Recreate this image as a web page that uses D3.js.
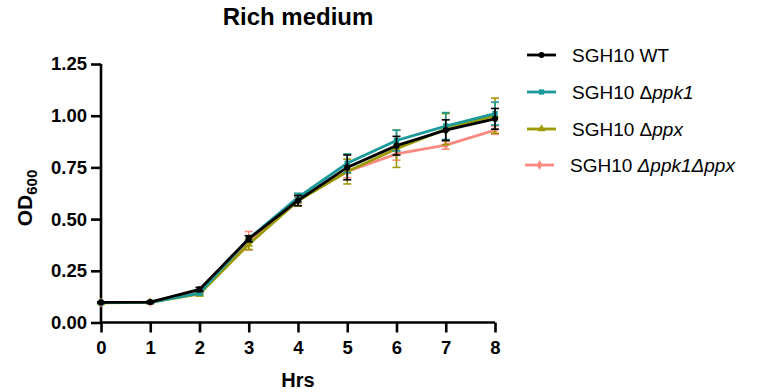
<!DOCTYPE html>
<html>
<head>
<meta charset="utf-8">
<script src="https://cdn.jsdelivr.net/npm/d3@7"></script>
<style>
  body { margin: 0; background: #fff; }
  text { font-family: "Liberation Sans", Arial, sans-serif; }
</style>
</head>
<body>
<div id="chart"></div>
<script>
// data
var hours = [0, 1, 2, 3, 4, 5, 6, 7, 8];
var seriesNames = ["SGH10 WT", "SGH10 \u0394ppk1", "SGH10 \u0394ppx", "SGH10 \u0394ppk1\u0394ppx"];
var wtMean   = [0.097, 0.099, 0.160, 0.405, 0.590, 0.750, 0.855, 0.930, 0.985];
var wtErr    = [0.003, 0.003, 0.010, 0.015, 0.025, 0.060, 0.045, 0.050, 0.050];
var ppk1Mean = [0.096, 0.098, 0.142, 0.405, 0.605, 0.770, 0.880, 0.950, 1.010];
var ppk1Err  = [0.003, 0.003, 0.006, 0.012, 0.020, 0.045, 0.050, 0.065, 0.055];
var ppxMean  = [0.095, 0.097, 0.138, 0.378, 0.588, 0.730, 0.840, 0.935, 1.000];
var ppxErr   = [0.003, 0.003, 0.010, 0.025, 0.025, 0.060, 0.090, 0.075, 0.085];
var dkoMean  = [0.096, 0.098, 0.148, 0.395, 0.592, 0.730, 0.815, 0.858, 0.930];
var dkoErr   = [0.003, 0.003, 0.008, 0.045, 0.015, 0.030, 0.030, 0.020, 0.020];
var yTicks = [0, 0.25, 0.5, 0.75, 1.0, 1.25];

var colors = ["#000000", "#1a9a9a", "#9c9a00", "#fa8a80"];
var shapes = [d3.symbolCircle, d3.symbolSquare, d3.symbolTriangle, d3.symbolDiamond];

var series = [
  {name: seriesNames[0], mean: wtMean, err: wtErr, color: colors[0], shape: shapes[0]},
  {name: seriesNames[1], mean: ppk1Mean, err: ppk1Err, color: colors[1], shape: shapes[1]},
  {name: seriesNames[2], mean: ppxMean, err: ppxErr, color: colors[2], shape: shapes[2]},
  {name: seriesNames[3], mean: dkoMean, err: dkoErr, color: colors[3], shape: shapes[3]}
];

var svgWidth = 757, svgHeight = 392;
var margin = {top: 64, right: 262, bottom: 69.5, left: 101};
var width = svgWidth - margin.left - margin.right;
var height = svgHeight - margin.top - margin.bottom;

var svg = d3.select("#chart").append("svg")
  .attr("width", svgWidth)
  .attr("height", svgHeight);

var chartGroup = svg.append("g")
  .attr("transform", `translate(${margin.left}, ${margin.top})`);

var x = d3.scaleLinear().domain([0, 8]).range([0, width]);
var y = d3.scaleLinear().domain([0, 1.25]).range([height, 0]);

// axes
var xAxis = chartGroup.append("g")
  .attr("transform", `translate(0, ${height})`)
  .call(d3.axisBottom(x).tickValues(hours).tickSize(10).tickPadding(8).tickFormat(d3.format("d")));
var yAxis = chartGroup.append("g")
  .call(d3.axisLeft(y).tickValues(yTicks).tickSize(10).tickPadding(4).tickFormat(d3.format(".2f")));

[xAxis, yAxis].forEach(function(ax) {
  ax.select(".domain").attr("stroke", "#000").attr("stroke-width", 2.6);
  ax.selectAll(".tick line").attr("stroke", "#000").attr("stroke-width", 2.6);
  ax.selectAll(".tick text")
    .attr("fill", "#000")
    .style("font-size", "18.5px")
    .style("font-weight", "bold");
});
xAxis.select(".domain").attr("d", `M0,0H${width}`);
yAxis.select(".domain").attr("d", `M0,0V${height}`);

// series, drawn back to front
var drawOrder = [3, 2, 1, 0];
var line = d3.line().x((d, i) => x(hours[i])).y(d => y(d));

drawOrder.forEach(function(k) {
  var s = series[k];
  var g = chartGroup.append("g");

  // error bars
  var bars = g.selectAll(".err").data(s.mean).enter().append("g");
  bars.append("line")
    .attr("x1", (d, i) => x(hours[i])).attr("x2", (d, i) => x(hours[i]))
    .attr("y1", (d, i) => y(d + s.err[i])).attr("y2", (d, i) => y(d - s.err[i]))
    .attr("stroke", s.color).attr("stroke-width", 1.6);
  [1, -1].forEach(function(sign) {
    bars.append("line")
      .attr("x1", (d, i) => x(hours[i]) - 4).attr("x2", (d, i) => x(hours[i]) + 4)
      .attr("y1", (d, i) => y(d + sign * s.err[i])).attr("y2", (d, i) => y(d + sign * s.err[i]))
      .attr("stroke", s.color).attr("stroke-width", 1.6);
  });

  g.append("path")
    .datum(s.mean)
    .attr("d", line)
    .attr("fill", "none")
    .attr("stroke", s.color)
    .attr("stroke-width", 2.8);

  g.selectAll(".pt").data(s.mean).enter().append("path")
    .attr("transform", (d, i) => `translate(${x(hours[i])}, ${y(d)})`)
    .attr("d", d3.symbol().type(s.shape).size(30))
    .attr("fill", s.color);
});

// title and axis labels
svg.append("text")
  .attr("x", margin.left + width / 2).attr("y", 25)
  .attr("text-anchor", "middle")
  .style("font-size", "24px").style("font-weight", "bold")
  .text("Rich medium");

svg.append("text")
  .attr("x", margin.left + width / 2).attr("y", 387)
  .attr("text-anchor", "middle")
  .style("font-size", "20px").style("font-weight", "bold")
  .text("Hrs");

var yLab = svg.append("text")
  .attr("transform", "translate(32, 198) rotate(-90)")
  .attr("text-anchor", "middle")
  .style("font-size", "21px").style("font-weight", "bold");
yLab.append("tspan").text("OD");
yLab.append("tspan").attr("dy", 5).style("font-size", "15px").text("600");

// legend
var legendY = [55, 92, 129, 165];
var legend = svg.append("g");
series.forEach(function(s, k) {
  var row = legend.append("g").attr("transform", `translate(${k === 3 ? 525 : 527}, ${legendY[k]})`);
  row.append("line")
    .attr("x1", 0).attr("x2", 29).attr("y1", 0).attr("y2", 0)
    .attr("stroke", s.color).attr("stroke-width", 2.8);
  row.append("path")
    .attr("transform", "translate(14.5, 0)")
    .attr("d", d3.symbol().type(s.shape).size(28))
    .attr("fill", s.color);
  var t = row.append("text")
    .attr("x", 45).attr("y", 7)
    .style("font-size", "19px").attr("fill", "#000");
  if (k === 0) {
    t.text(s.name);
  } else if (k === 3) {
    t.append("tspan").text("SGH10 ");
    t.append("tspan").style("font-style", "italic").text("\u0394ppk1\u0394ppx");
  } else {
    var parts = s.name.split("\u0394");
    t.append("tspan").text(parts[0] + "\u0394");
    t.append("tspan").style("font-style", "italic").text(parts[1]);
  }
});
</script>
</body>
</html>
